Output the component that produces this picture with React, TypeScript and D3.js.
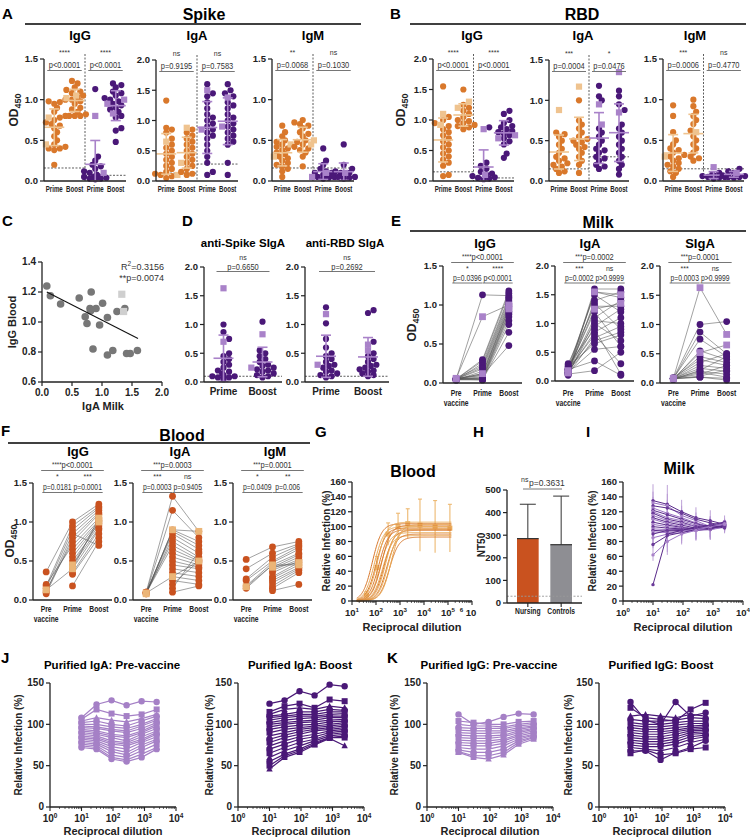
import React from 'react';
import * as d3 from 'd3';

const SANS = '"Liberation Sans", Arial, Helvetica, sans-serif';
const INK = '#222';
const ORANGE = '#D9782B';
const ORANGE_LT = '#EFC38F';
const RUST = '#C9521F';
const RUST_LT = '#EBB577';
const PURPLE = '#4A1878';
const PURPLE_LT = '#A982C9';

// ---------- A: Spike ELISA (blood prime, blood boost, milk prime, milk boost)
const primeBoost = ['Prime', 'Boost', 'Prime', 'Boost'];
const spikeIgG = [
  [1.0, 0.98, 0.97, 0.95, 0.9, 0.85, 0.8, 0.78, 0.75, 0.72, 0.7, 0.68, 0.65, 0.6, 0.55, 0.5, 0.45, 0.42, 0.4, 0.4, 0.38, 0.2],
  [1.23, 1.2, 1.15, 1.12, 1.1, 1.08, 1.05, 1.03, 1.0, 0.98, 0.95, 0.9, 0.88, 0.85, 0.82, 0.8, 0.8, 0.8],
  [1.13, 0.3, 0.25, 0.2, 0.18, 0.15, 0.12, 0.1, 0.08, 0.06, 0.05, 0.05, 0.04, 0.03, 0.03, 0.02],
  [1.2, 1.18, 1.15, 1.1, 1.08, 1.05, 1.02, 1.0, 0.98, 0.95, 0.93, 0.9, 0.88, 0.85, 0.8, 0.78, 0.65, 0.62, 0.48],
];
const spikeIgGSq = [[0.78, 0.45], [1.05, 1.02], [0.8, 0.1], [1.0, 0.95, 0.83]];
const spikeIgGCut = [0.16, 0.07];
const spikeIgGP = [['****', 'p<0.0001'], ['****', 'p<0.0001']];

const spikeIgA = [
  [1.33, 0.88, 0.85, 0.8, 0.7, 0.6, 0.55, 0.5, 0.45, 0.4, 0.35, 0.3, 0.25, 0.2, 0.15, 0.12, 0.1, 0.08, 0.05],
  [0.85, 0.8, 0.75, 0.7, 0.65, 0.6, 0.55, 0.5, 0.45, 0.4, 0.35, 0.3, 0.25, 0.2, 0.15, 0.12, 0.1],
  [1.6, 1.45, 1.4, 1.3, 1.2, 1.1, 1.05, 1.0, 0.95, 0.9, 0.85, 0.8, 0.75, 0.7, 0.6, 0.5, 0.4, 0.3, 0.15, 0.1],
  [1.6, 1.5, 1.45, 1.4, 1.3, 1.25, 1.2, 1.1, 1.05, 1.0, 0.95, 0.9, 0.85, 0.8, 0.75, 0.7, 0.65, 0.6, 0.3, 0.1],
];
const spikeIgASq = [[0.65, 0.1], [0.88, 0.3], [1.5, 0.85], [1.38, 0.9]];
const spikeIgACut = [0.13, 0.28];
const spikeIgAP = [['ns', 'p=0.9195'], ['ns', 'p=0.7583']];

const spikeIgM = [
  [0.68, 0.6, 0.55, 0.5, 0.48, 0.45, 0.42, 0.4, 0.38, 0.35, 0.33, 0.3, 0.28, 0.25, 0.22, 0.2, 0.18, 0.15, 0.12, 0.05],
  [0.75, 0.72, 0.7, 0.68, 0.65, 0.6, 0.58, 0.55, 0.5, 0.48, 0.45, 0.42, 0.4, 0.38, 0.35, 0.3, 0.18],
  [0.4, 0.25, 0.2, 0.15, 0.12, 0.1, 0.1, 0.08, 0.07, 0.06, 0.05, 0.05, 0.04, 0.03],
  [0.45, 0.2, 0.15, 0.12, 0.1, 0.1, 0.08, 0.07, 0.06, 0.05, 0.05, 0.04, 0.03],
];
const spikeIgMSq = [[0.45, 0.3], [0.45, 0.5], [0.1, 0.05], [0.1]];
const spikeIgMCut = [0.16, 0.16];
const spikeIgMP = [['**', 'p=0.0068'], ['ns', 'p=0.1030']];

// ---------- B: RBD ELISA
const rbdIgG = [
  [1.55, 1.05, 1.0, 0.95, 0.9, 0.85, 0.8, 0.75, 0.7, 0.65, 0.6, 0.55, 0.5, 0.45, 0.4, 0.35, 0.3, 0.25, 0.1, 0.08],
  [1.5, 1.25, 1.2, 1.15, 1.1, 1.05, 1.0, 0.98, 0.95, 0.92, 0.9, 0.88, 0.85],
  [0.88, 0.3, 0.25, 0.2, 0.15, 0.12, 0.1, 0.08, 0.06, 0.05, 0.04, 0.03],
  [1.15, 1.1, 1.0, 0.95, 0.9, 0.88, 0.85, 0.82, 0.8, 0.78, 0.75, 0.7, 0.65, 0.6, 0.45, 0.38],
];
const rbdIgGSq = [[1.1, 0.92], [1.3, 1.2], [0.85, 0.1], [0.75, 0.7]];
const rbdIgGCut = [0.15, 0.05];
const rbdIgGP = [['****', 'p<0.0001'], ['****', 'p<0.0001']];

const rbdIgA = [
  [0.6, 0.58, 0.55, 0.5, 0.45, 0.4, 0.35, 0.3, 0.28, 0.25, 0.22, 0.2, 0.18, 0.15, 0.12, 0.1],
  [1.0, 0.75, 0.7, 0.65, 0.6, 0.55, 0.52, 0.5, 0.48, 0.45, 0.42, 0.4, 0.35, 0.3, 0.25, 0.2, 0.1],
  [1.18, 1.05, 1.0, 0.65, 0.6, 0.55, 0.5, 0.45, 0.4, 0.38, 0.35, 0.3, 0.28, 0.25, 0.2, 0.18, 0.15],
  [1.12, 1.05, 0.95, 0.88, 0.7, 0.65, 0.6, 0.55, 0.5, 0.45, 0.4, 0.35, 0.3, 0.25, 0.2, 0.15, 0.08],
];
const rbdIgASq = [[0.88], [1.17], [0.95, 0.7], [1.35, 0.85]];
const rbdIgACut = [0.15, 0.3];
const rbdIgAP = [['***', 'p=0.0004'], ['*', 'p=0.0476']];

const rbdIgM = [
  [0.93, 0.8, 0.6, 0.5, 0.45, 0.4, 0.38, 0.35, 0.32, 0.3, 0.28, 0.25, 0.22, 0.2, 0.18, 0.15, 0.12, 0.1, 0.05],
  [1.0, 0.92, 0.85, 0.8, 0.75, 0.7, 0.62, 0.55, 0.5, 0.45, 0.4, 0.35, 0.3, 0.28, 0.25],
  [0.1, 0.08, 0.07, 0.06, 0.05, 0.05, 0.04, 0.03],
  [0.15, 0.12, 0.1, 0.08, 0.07, 0.06, 0.05, 0.05, 0.04],
];
const rbdIgMSq = [[0.3], [0.6], [0.17], [0.1]];
const rbdIgMCut = [0.15, 0.15];
const rbdIgMP = [['***', 'p=0.0006'], ['ns', 'p=0.4770']];

// ---------- C: milk IgA vs blood IgG
const corrMilkIgA = [0.08, 0.14, 0.31, 0.62, 0.82, 0.72, 0.75, 0.8, 0.81, 0.9, 1.01, 0.96, 1.09, 1.25, 1.38, 0.85, 1.09, 1.18, 1.41, 1.47, 1.59];
const corrBloodIgG = [1.24, 1.175, 1.12, 1.16, 1.2, 1.035, 0.99, 1.09, 1.075, 1.09, 1.125, 0.98, 1.03, 1.07, 1.09, 0.82, 0.78, 0.81, 0.79, 0.79, 0.81];
const corrMilkIgASq = [1.33, 1.36];
const corrBloodIgGSq = [1.185, 1.07];
const corrFitX = [0.08, 1.6];
const corrFitY = [1.2, 0.89];

// ---------- D: SIgA prime / boost
const spikeSIgA = [
  [1.0, 0.87, 0.75, 0.5, 0.45, 0.4, 0.35, 0.3, 0.25, 0.2, 0.18, 0.15, 0.12, 0.1, 0.1, 0.08, 0.08, 0.05],
  [1.05, 0.55, 0.5, 0.45, 0.4, 0.35, 0.3, 0.28, 0.25, 0.22, 0.2, 0.18, 0.15, 0.12, 0.1, 0.08],
];
const spikeSIgASq = [[1.63, 0.7], [0.83, 0.25]];
const rbdSIgA = [
  [1.3, 1.02, 0.75, 0.6, 0.5, 0.45, 0.4, 0.35, 0.3, 0.28, 0.25, 0.2, 0.18, 0.15, 0.12, 0.1, 0.08],
  [1.25, 1.2, 0.7, 0.5, 0.45, 0.4, 0.35, 0.3, 0.28, 0.25, 0.22, 0.2, 0.18, 0.15, 0.12, 0.1],
];
const rbdSIgASq = [[1.18, 0.3], [0.55, 0.65]];
const sigaCut = [0.1];

// ---------- E: milk, paired [pre, prime, boost]
const stages = ['Pre vaccine', 'Prime', 'Boost'];
const milkIgG = [
  [0.05, 1.13, 1.12], [0.05, 0.3, 1.18], [0.05, 0.28, 1.15], [0.04, 0.25, 1.1], [0.06, 0.22, 1.08], [0.05, 0.2, 1.05],
  [0.05, 0.18, 1.02], [0.04, 0.15, 1.0], [0.05, 0.12, 0.98], [0.06, 0.1, 0.95], [0.05, 0.08, 0.92], [0.04, 0.07, 0.9],
  [0.05, 0.06, 0.88], [0.05, 0.05, 0.85], [0.06, 0.05, 0.8], [0.05, 0.04, 0.75], [0.04, 0.04, 0.65], [0.05, 0.1, 0.48],
];
const milkIgGSq = [[0.06, 0.85, 1.0], [0.05, 0.12, 0.95]];
const milkIgA = [
  [0.15, 1.6, 1.6], [0.2, 1.55, 1.45], [0.25, 1.5, 1.2], [0.12, 1.4, 1.55], [0.18, 1.35, 0.9], [0.3, 1.3, 1.3],
  [0.2, 1.2, 0.6], [0.15, 1.1, 1.4], [0.1, 1.05, 1.0], [0.22, 1.0, 0.7], [0.14, 0.95, 1.25], [0.28, 0.9, 0.12],
  [0.16, 0.85, 1.1], [0.2, 0.8, 0.3], [0.12, 0.75, 0.95], [0.18, 0.7, 0.85], [0.25, 0.65, 0.8], [0.15, 0.55, 0.6],
  [0.2, 0.35, 0.1], [0.12, 0.18, 0.5],
];
const milkIgASq = [[0.14, 1.55, 1.5], [0.18, 1.25, 1.35]];
const milkSIgA = [
  [0.08, 1.0, 1.05], [0.07, 0.87, 0.5], [0.08, 0.75, 0.45], [0.06, 0.55, 0.4], [0.07, 0.45, 0.35], [0.09, 0.4, 0.3],
  [0.08, 0.35, 0.5], [0.07, 0.3, 0.25], [0.08, 0.25, 0.2], [0.06, 0.22, 0.45], [0.08, 0.2, 0.15], [0.07, 0.18, 0.1],
  [0.08, 0.15, 0.3], [0.07, 0.12, 0.22], [0.08, 0.1, 0.08], [0.07, 0.1, 0.05],
];
const milkSIgASq = [[0.08, 1.63, 0.83], [0.07, 0.52, 0.65]];
const milkIgGP = [['****', 'p<0.0001'], ['*', 'p=0.0396'], ['****', 'p<0.0001']];
const milkIgAP = [['***', 'p=0.0002'], ['***', 'p=0.0002'], ['ns', 'p>0.9999']];
const milkSIgAP = [['***', 'p=0.0001'], ['***', 'p=0.0003'], ['ns', 'p>0.9999']];

// ---------- F: blood, paired [pre, prime, boost]
const serumIgG = [
  [0.36, 1.0, 1.23], [0.18, 0.95, 1.2], [0.15, 0.9, 1.18], [0.1, 0.85, 1.15], [0.08, 0.8, 1.12], [0.12, 0.75, 1.1],
  [0.2, 0.7, 1.05], [null, 0.65, 1.02], [null, 0.6, 1.0], [null, 0.55, 0.98], [null, 0.5, 0.95], [null, 0.45, 0.92],
  [null, 0.4, 0.9], [null, 0.35, 0.85], [null, 0.33, 0.8], [null, 0.18, 0.75], [null, 0.85, 0.7],
];
const serumIgGSq = [[0.13, 0.4, 1.05], [null, 0.45, 1.0]];
const serumIgA = [
  [0.1, 1.33, 0.88], [0.09, 1.15, 0.8], [0.08, 0.9, 0.75], [0.1, 0.88, 0.7], [0.09, 0.85, 0.65], [0.08, 0.8, 0.6],
  [0.1, 0.75, 0.55], [0.09, 0.7, 0.52], [null, 0.65, 0.5], [null, 0.6, 0.48], [null, 0.55, 0.45], [null, 0.5, 0.42],
  [null, 0.45, 0.4], [null, 0.4, 0.35], [null, 0.35, 0.3], [null, 0.3, 0.25], [null, 0.25, 0.2], [null, 0.2, 0.5],
  [null, 0.15, 0.62], [null, 0.1, 0.18],
];
const serumIgASq = [[0.08, 0.9, 0.88], [0.09, 0.3, 0.5]];
const serumIgM = [
  [0.52, 0.68, 0.75], [0.4, 0.6, 0.72], [0.27, 0.55, 0.7], [0.25, 0.5, 0.68], [0.18, 0.48, 0.65], [0.15, 0.45, 0.6],
  [null, 0.42, 0.58], [null, 0.4, 0.55], [null, 0.38, 0.52], [null, 0.35, 0.5], [null, 0.3, 0.48], [null, 0.28, 0.45],
  [null, 0.25, 0.42], [null, 0.22, 0.4], [null, 0.18, 0.38], [null, 0.15, 0.35], [null, 0.12, 0.2],
];
const serumIgMSq = [[0.17, 0.45, 0.45], [null, 0.42, 0.48]];
const serumIgGP = [['****', 'p<0.0001'], ['*', 'p=0.0181'], ['***', 'p=0.0001']];
const serumIgAP = [['***', 'p=0.0003'], ['***', 'p=0.0003'], ['ns', 'p=0.9405']];
const serumIgMP = [['***', 'p=0.0001'], ['*', 'p=0.0409'], ['**', 'p=0.006']];

// ---------- G: blood neutralisation fits (IC50, top) and column summaries
const bloodIC50 = [70, 85, 100, 115, 130, 150, 170, 190, 220, 250, 280, 320, 360, 420];
const bloodTop = [104, 100, 98, 106, 96, 92, 102, 88, 95, 100, 90, 97, 86, 103];
const bloodHill = 2.2;
const bloodColDil = [40, 110, 320, 830, 2100, 6800, 29000, 120000];
const bloodColMean = [8, 45, 90, 100, 104, 102, 100, 98];
const bloodColSd = [5, 15, 15, 18, 20, 35, 35, 32];

// ---------- H: NT50
const nt50Groups = ['Nursing', 'Controls'];
const nt50Mean = [285, 258];
const nt50Sd = [152, 215];
const nt50Cut = 30;

// ---------- I, J, K: relative infection at dilutions
const dilutions = [10, 30, 90, 270, 810, 2430];
const milkNeut = [
  [135, 130, 120, 112, 108, 103], [132, 128, 115, 108, 100, 104], [128, 125, 118, 110, 105, 101],
  [125, 118, 112, 105, 100, 102], [122, 116, 110, 104, 99, 100], [120, 112, 108, 102, 100, 103],
  [118, 110, 106, 100, 98, 100], [115, 108, 104, 100, 98, 104], [112, 106, 102, 98, 97, 101],
  [110, 104, 100, 97, 96, 99], [106, 102, 99, 96, 96, 103], [103, 100, 98, 95, 96, 100],
  [100, 98, 97, 95, 97, 102], [97, 96, 96, 95, 98, 104], [95, 94, 95, 96, 100, 105],
  [93, 92, 94, 97, 100, 107], [90, 95, 96, 98, 102, 106], [85, 90, 92, 95, 100, 104],
  [76, 88, 92, 96, 98, 101], [62, 80, 90, 95, 100, 103], [22, 90, 95, 100, 102, 98],
];
const milkNeutSd = [22, 26, 16, 14, 14, 8];

const igaPre = [
  [108, 124, 129, 123, 128, 127], [106, 118, 113, 110, 112, 118], [104, 108, 105, 103, 107, 112],
  [102, 104, 100, 98, 104, 110], [100, 100, 97, 95, 100, 107], [98, 97, 94, 92, 98, 105],
  [96, 95, 92, 90, 95, 102], [94, 92, 88, 86, 92, 100], [92, 90, 86, 84, 90, 98],
  [90, 88, 84, 80, 88, 95], [88, 86, 80, 78, 85, 92], [86, 84, 78, 76, 82, 90],
  [84, 82, 76, 74, 80, 88], [82, 80, 73, 70, 78, 85], [80, 78, 70, 66, 75, 82],
  [78, 76, 67, 63, 72, 80], [76, 74, 63, 60, 68, 76], [74, 72, 60, 57, 64, 72], [72, 70, 58, 55, 60, 70],
];
const igaBoost = [
  [125, 129, 140, 135, 148, 146], [115, 122, 125, 120, 130, 128], [112, 118, 120, 118, 122, 120],
  [110, 112, 115, 115, 118, 117], [108, 110, 112, 112, 115, 115], [105, 108, 110, 110, 112, 113],
  [102, 105, 107, 108, 110, 110], [100, 102, 104, 105, 108, 108], [97, 100, 102, 103, 105, 106],
  [94, 97, 99, 100, 103, 104], [90, 94, 96, 98, 100, 102], [86, 90, 94, 96, 98, 100],
  [82, 87, 91, 94, 96, 98], [78, 84, 88, 92, 94, 96], [74, 80, 85, 88, 92, 94],
  [70, 76, 82, 85, 90, 92], [65, 72, 78, 82, 88, 90], [60, 68, 74, 80, 86, 88],
  [55, 64, 70, 78, 84, 86], [50, 62, 68, 76, 84, 84], [46, 60, 66, 75, 83, 74],
];
const iggPre = [
  [112, 100, 103, 109, 113, 112], [104, 102, 100, 100, 103, 104], [100, 98, 98, 97, 100, 102],
  [96, 95, 95, 95, 98, 100], [93, 92, 92, 92, 96, 98], [90, 89, 89, 90, 94, 97],
  [87, 86, 86, 87, 92, 95], [84, 83, 83, 85, 90, 94], [81, 80, 80, 82, 88, 92],
  [78, 77, 77, 80, 86, 90], [75, 74, 74, 77, 84, 88], [72, 70, 70, 74, 82, 87],
  [69, 66, 66, 70, 80, 85], [67, 62, 62, 66, 78, 84], [66, 60, 58, 63, 76, 82],
];
const iggBoost = [
  [127, 105, 100, 127, 110, 114], [120, 108, 106, 104, 118, 126], [110, 112, 110, 108, 112, 110],
  [106, 104, 104, 105, 108, 107], [102, 100, 100, 102, 104, 104], [99, 97, 97, 99, 101, 101],
  [96, 94, 94, 96, 98, 99], [93, 91, 91, 93, 96, 97], [90, 88, 88, 91, 94, 95],
  [87, 85, 85, 88, 92, 93], [84, 82, 82, 85, 90, 91], [81, 79, 79, 82, 88, 89],
  [78, 76, 76, 79, 85, 87], [75, 73, 73, 76, 82, 85], [72, 70, 68, 72, 78, 82],
  [68, 68, 57, 66, 72, 80], [65, 69, 63, 65, 70, 72],
];

// ---------------- helpers
function swarm(ys: number[], r: number) {
  const order = ys.map((_, i) => i).sort((a, b) => ys[b] - ys[a]);
  const placed: [number, number][] = [];
  const out = ys.map(() => 0);
  const d = r * 1.45;
  const stepX = r * 0.9;
  for (const i of order) {
    let off = ((i % 5) - 2) * stepX * 0.5;
    for (let k = 0; k < 9; k++) {
      const m = Math.ceil(k / 2) * stepX;
      const cand = k % 2 ? m : -m;
      if (placed.every(([px, py]) => Math.hypot(px - cand, py - ys[i]) >= d)) { off = cand; break; }
    }
    placed.push([off, ys[i]]);
    out[i] = off;
  }
  return out;
}

// horizontally condensed text (stand-in for a narrow face)
function NText({ x, y, size, squeeze = 0.8, bold = true, fill = INK, children }: { x: number; y: number; size: number; squeeze?: number; bold?: boolean; fill?: string; children: any }) {
  return (
    <text transform={`translate(${x},${y}) scale(${squeeze},1)`} textAnchor="middle" fontSize={size} fontWeight={bold ? 'bold' : 'normal'} fill={fill}>
      {children}
    </text>
  );
}

function YAxis({ y, x, ticks, fmt, size = 9.5 }: { y: any; x: number; ticks: number[]; fmt: (v: number) => string; size?: number }) {
  const [a, b] = y.range();
  return (
    <g>
      <line x1={x} x2={x} y1={a} y2={b} stroke={INK} strokeWidth={1.3} />
      {ticks.map((t) => (
        <g key={t}>
          <line x1={x - 4} x2={x} y1={y(t)} y2={y(t)} stroke={INK} strokeWidth={1.2} />
          <text x={x - 6} y={y(t) + 3.4} textAnchor="end" fontSize={size} fontWeight="bold" fill={INK}>{fmt(t)}</text>
        </g>
      ))}
    </g>
  );
}

function LogXAxis({ x, y, from, to, size = 9.5, labelDy = 15, weird = false }: { x: any; y: number; from: number; to: number; size?: number; labelDy?: number; weird?: boolean }) {
  const [r0, r1] = x.range();
  const minor: number[] = [];
  for (let e = from; e < to; e++) for (let k = 2; k <= 9; k++) minor.push(k * Math.pow(10, e));
  return (
    <g>
      <line x1={r0} x2={r1} y1={y} y2={y} stroke={INK} strokeWidth={1.3} />
      {minor.map((m) => <line key={m} x1={x(m)} x2={x(m)} y1={y} y2={y + 2} stroke={INK} strokeWidth={0.7} />)}
      {d3.range(from, to + 1).map((e) => (
        <g key={e}>
          <line x1={x(Math.pow(10, e))} x2={x(Math.pow(10, e))} y1={y} y2={y + 4} stroke={INK} strokeWidth={1.1} />
          {weird && e === to ? (
            <text x={x(Math.pow(10, e)) - 4} y={y + labelDy} textAnchor="middle" fontSize={size} fontWeight="bold" fill={INK}>
              <tspan fontSize={size * 0.65} dy={-size * 0.4}>{e}</tspan>
              <tspan dy={size * 0.4}>{' 10'}</tspan>
            </text>
          ) : (
            <text x={x(Math.pow(10, e))} y={y + labelDy} textAnchor="middle" fontSize={size} fontWeight="bold" fill={INK}>
              10<tspan fontSize={size * 0.65} dy={-size * 0.45}>{e}</tspan>
            </text>
          )}
        </g>
      ))}
    </g>
  );
}

function RotLabel({ x, y, size = 10, children }: { x: number; y: number; size?: number; children: any }) {
  return (
    <text transform={`translate(${x},${y}) rotate(-90)`} textAnchor="middle" fontSize={size} fontWeight="bold" fill={INK}>
      {children}
    </text>
  );
}

function OdLabel({ x, y }: { x: number; y: number }) {
  return (
    <RotLabel x={x} y={y} size={12}>
      OD<tspan fontSize={9} dy={3}>450</tspan>
    </RotLabel>
  );
}

function Letter({ x, y, t }: { x: number; y: number; t: string }) {
  return <text x={x} y={y} fontSize={15} fontWeight="bold" fill="#000">{t}</text>;
}

function Header({ x1, x2, y, title, tx, ty }: { x1: number; x2: number; y: number; title: string; tx: number; ty: number }) {
  return (
    <g>
      <text x={tx} y={ty} textAnchor="middle" fontSize={16} fontWeight="bold" fill="#000">{title}</text>
      <line x1={x1} x2={x2} y1={y} y2={y} stroke="#000" strokeWidth={1.3} />
    </g>
  );
}

function Title({ x, y, t, size = 13 }: { x: number; y: number; t: string; size?: number }) {
  return <text x={x} y={y} textAnchor="middle" fontSize={size} fontWeight="bold" fill="#000">{t}</text>;
}

// ---------------- dot (scatter) panel with mean ± SD
type DotProps = {
  x0: number; x1: number; yTop: number; yBot: number; yMax: number; step: number;
  groups: number[][]; squares: number[][]; cut: number[]; pv: string[][]; cats: string[];
  dark: string[]; light: string[]; br: number[]; catY: number; catSize?: number; squeeze?: number; r?: number;
};
function DotPanel(p: DotProps) {
  const r = p.r ?? 3.1;
  const n = p.groups.length;
  const y = d3.scaleLinear().domain([0, p.yMax]).range([p.yBot, p.yTop]);
  const xb = d3.scaleBand<number>().domain(d3.range(n)).range([p.x0, p.x1]);
  const cx = (i: number) => (xb(i) ?? 0) + xb.bandwidth() / 2;
  const mid = n === 4 ? (cx(1) + cx(2)) / 2 : 0;
  const ticks = d3.range(0, p.yMax + 1e-9, p.step);
  const pairs = n === 4 ? [[0, 1], [2, 3]] : [[0, 1]];
  return (
    <g>
      {n === 4 && <line x1={mid} x2={mid} y1={p.yTop - 5} y2={p.yBot} stroke="#333" strokeWidth={0.8} strokeDasharray="2,1.5" />}
      {p.cut.map((c, k) => {
        const xa = n === 4 && k === 1 ? mid : p.x0;
        const xe = n === 4 && k === 0 ? mid : p.x1;
        return <line key={k} x1={xa} x2={xe} y1={y(c)} y2={y(c)} stroke="#333" strokeWidth={0.8} strokeDasharray="2,1.5" />;
      })}
      {p.groups.map((vals, gi) => {
        const all = [...vals.map((v) => ({ v, sq: false })), ...(p.squares[gi] || []).map((v) => ({ v, sq: true }))];
        const offs = swarm(all.map((d) => y(d.v)), r);
        const m = d3.mean(all, (d) => d.v) ?? 0;
        const sd = d3.deviation(all, (d) => d.v) ?? 0;
        const c = cx(gi);
        const lo = y(Math.max(0, m - sd));
        const hi = y(m + sd);
        return (
          <g key={gi}>
            {all.map((d, i) =>
              d.sq ? (
                <rect key={i} x={c + offs[i] - r} y={y(d.v) - r} width={2 * r} height={2 * r} fill={p.light[gi]} />
              ) : (
                <circle key={i} cx={c + offs[i]} cy={y(d.v)} r={r} fill={p.dark[gi]} />
              )
            )}
            <g stroke={p.light[gi]} strokeWidth={1.6}>
              <line x1={c - 10} x2={c + 10} y1={y(m)} y2={y(m)} />
              <line x1={c} x2={c} y1={lo} y2={hi} />
              <line x1={c - 5} x2={c + 5} y1={hi} y2={hi} />
              <line x1={c - 5} x2={c + 5} y1={lo} y2={lo} />
            </g>
          </g>
        );
      })}
      <YAxis y={y} x={p.x0} ticks={ticks} fmt={d3.format('.1f')} />
      <line x1={p.x0} x2={p.x1} y1={p.yBot} y2={p.yBot} stroke={INK} strokeWidth={1.3} />
      {p.cats.map((c, i) => (
        <NText key={i} x={cx(i)} y={p.catY} size={p.catSize ?? 8.5} squeeze={p.squeeze ?? 0.72}>{c}</NText>
      ))}
      {pairs.map(([a, b], k) => {
        const m = (cx(a) + cx(b)) / 2;
        return (
          <g key={k}>
            <text x={m} y={p.yTop + p.br[0]} textAnchor="middle" fontSize={7} fill="#333">{p.pv[k][0]}</text>
            <NText x={m} y={p.yTop + p.br[1]} size={8.5} squeeze={0.88} bold={false} fill="#333">{p.pv[k][1]}</NText>
            <line x1={cx(a) - 7} x2={cx(b) + 7} y1={p.yTop + p.br[2]} y2={p.yTop + p.br[2]} stroke="#666" strokeWidth={0.9} />
          </g>
        );
      })}
    </g>
  );
}

// ---------------- paired (before/after) panel
type PairProps = {
  x0: number; x1: number; yTop: number; yBot: number; yMax: number;
  rows: (number | null)[][]; sq: (number | null)[][]; dark: string; light: string;
  pv: string[][]; by: number[]; catY: number; r?: number;
};
function PairPanel(p: PairProps) {
  const r = p.r ?? 3.4;
  const y = d3.scaleLinear().domain([0, p.yMax]).range([p.yBot, p.yTop]);
  const xb = d3.scaleBand<number>().domain([0, 1, 2]).range([p.x0, p.x1]);
  const cx = (i: number) => (xb(i) ?? 0) + xb.bandwidth() / 2;
  const ticks = d3.range(0, p.yMax + 1e-9, 0.5);
  const seg = (row: (number | null)[]) =>
    row.slice(0, 2).map((v, i) => (v != null && row[i + 1] != null ? [cx(i), y(v), cx(i + 1), y(row[i + 1] as number)] : null)).filter(Boolean) as number[][];
  const all = [...p.rows.map((row) => ({ row, sq: false })), ...p.sq.map((row) => ({ row, sq: true }))];
  return (
    <g>
      {all.map(({ row }, k) => seg(row).map((s, j) => <line key={`${k}-${j}`} x1={s[0]} y1={s[1]} x2={s[2]} y2={s[3]} stroke="#555" strokeWidth={0.55} />))}
      {all.map(({ row, sq }, k) =>
        row.map((v, i) =>
          v == null ? null : sq ? (
            <rect key={`${k}-${i}`} x={cx(i) - r} y={y(v) - r} width={2 * r} height={2 * r} fill={p.light} />
          ) : (
            <circle key={`${k}-${i}`} cx={cx(i)} cy={y(v)} r={r} fill={p.dark} />
          )
        )
      )}
      <YAxis y={y} x={p.x0} ticks={ticks} fmt={d3.format('.1f')} />
      <line x1={p.x0} x2={p.x1} y1={p.yBot} y2={p.yBot} stroke={INK} strokeWidth={1.3} />
      {stages.map((s, i) =>
        i === 0 ? (
          <g key={i}>
            <NText x={cx(i)} y={p.catY} size={9} squeeze={0.75}>Pre</NText>
            <NText x={cx(i)} y={p.catY + 10} size={9} squeeze={0.75}>vaccine</NText>
          </g>
        ) : (
          <NText key={i} x={cx(i)} y={p.catY} size={9} squeeze={0.75}>{s}</NText>
        )
      )}
      <g fill="#333">
        <NText x={(cx(0) + cx(2)) / 2} y={p.by[0]} size={8.5} squeeze={0.88} bold={false} fill="#333">
          <tspan fontSize={7} dy={-1}>{p.pv[0][0]}</tspan>
          <tspan dy={1}>{p.pv[0][1]}</tspan>
        </NText>
        <line x1={cx(0) - 5} x2={cx(2) + 5} y1={p.by[1]} y2={p.by[1]} stroke="#666" strokeWidth={0.9} />
        {[0, 1].map((j) => {
          const m = (cx(j) + cx(j + 1)) / 2 + (j === 0 ? -2 : 2);
          return (
            <g key={j}>
              <text x={m} y={p.by[2]} textAnchor="middle" fontSize={7}>{p.pv[j + 1][0]}</text>
              <NText x={m} y={p.by[3]} size={8.5} squeeze={0.8} bold={false} fill="#333">{p.pv[j + 1][1]}</NText>
              <line x1={m - 15} x2={m + 15} y1={p.by[4]} y2={p.by[4]} stroke="#666" strokeWidth={0.9} />
            </g>
          );
        })}
      </g>
    </g>
  );
}

// ---------------- C scatter
function Correlation() {
  const x = d3.scaleLinear().domain([0, 2]).range([42, 162]);
  const y = d3.scaleLinear().domain([0.6, 1.4]).range([382, 262]);
  return (
    <g>
      {corrMilkIgA.map((v, i) => <circle key={i} cx={x(v)} cy={y(corrBloodIgG[i])} r={3.8} fill="#777" />)}
      {corrMilkIgASq.map((v, i) => <rect key={i} x={x(v) - 3.6} y={y(corrBloodIgGSq[i]) - 3.6} width={7.2} height={7.2} fill="#CFCFCF" />)}
      <line x1={x(corrFitX[0])} x2={x(corrFitX[1])} y1={y(corrFitY[0])} y2={y(corrFitY[1])} stroke="#111" strokeWidth={1.1} />
      <YAxis y={y} x={42} ticks={d3.range(0.6, 1.41, 0.2)} fmt={d3.format('.1f')} size={10} />
      <line x1={42} x2={162} y1={382} y2={382} stroke={INK} strokeWidth={1.3} />
      {d3.range(0, 2.01, 0.5).map((t) => (
        <g key={t}>
          <line x1={x(t)} x2={x(t)} y1={382} y2={386} stroke={INK} strokeWidth={1.2} />
          <text x={x(t)} y={396} textAnchor="middle" fontSize={10} fontWeight="bold" fill={INK}>{d3.format('.1f')(t)}</text>
        </g>
      ))}
      <text x={103} y={410} textAnchor="middle" fontSize={11} fontWeight="bold" fill={INK}>IgA Milk</text>
      <RotLabel x={16} y={322} size={11}>IgG Blood</RotLabel>
      <text x={164} y={270} textAnchor="end" fontSize={9} fill="#333">R<tspan fontSize={6.5} dy={-4}>2</tspan><tspan dy={4}>=0.3156</tspan></text>
      <text x={164} y={281} textAnchor="end" fontSize={9} fill="#333">**p=0.0074</text>
    </g>
  );
}

// ---------------- G sigmoid fits
function BloodCurves() {
  const x = d3.scaleLog().domain([10, 1e6]).range([352, 472]);
  const y = d3.scaleLinear().domain([0, 160]).range([601, 482]);
  const xs = d3.range(1.2, 5.16, 0.02).map((l) => Math.pow(10, l));
  return (
    <g>
      {bloodColDil.map((d, i) => (
        <g key={i} stroke="#EDB870" strokeWidth={1.1}>
          <line x1={x(d)} x2={x(d)} y1={y(Math.max(0, bloodColMean[i] - bloodColSd[i]))} y2={y(bloodColMean[i] + bloodColSd[i])} />
          <line x1={x(d) - 2} x2={x(d) + 2} y1={y(bloodColMean[i] + bloodColSd[i])} y2={y(bloodColMean[i] + bloodColSd[i])} />
          <rect x={x(d) - 2.5} y={y(bloodColMean[i]) - 2.5} width={5} height={5} fill="#EDB870" stroke="none" />
        </g>
      ))}
      {bloodIC50.map((ic, i) => {
        const path = d3.line<number>().x((d) => x(d)).y((d) => y(bloodTop[i] / (1 + Math.pow(ic / d, bloodHill))))(xs);
        return <path key={i} d={path ?? ''} fill="none" stroke={i % 2 ? '#E9A955' : ORANGE} strokeWidth={1} />;
      })}
      <YAxis y={y} x={352} ticks={d3.range(0, 161, 20)} fmt={d3.format('d')} size={9.5} />
      <LogXAxis x={x} y={601} from={1} to={6} weird labelDy={15} />
      <Title x={413} y={477} t="Blood" size={16} />
      <RotLabel x={330} y={541} size={10}>Relative Infection (%)</RotLabel>
      <text x={412} y={631} textAnchor="middle" fontSize={11} fontWeight="bold" fill={INK}>Reciprocal dilution</text>
    </g>
  );
}

// ---------------- H bars
function Nt50Bars() {
  const x = d3.scaleBand<string>().domain(nt50Groups).range([507, 582]).paddingInner(0.35).paddingOuter(0.3);
  const y = d3.scaleLinear().domain([0, 500]).range([603, 490]);
  const fills = [RUST, '#8E8E93'];
  return (
    <g>
      {nt50Groups.map((g, i) => {
        const bx = x(g) ?? 0;
        const c = bx + x.bandwidth() / 2;
        return (
          <g key={g}>
            <rect x={bx} y={y(nt50Mean[i])} width={x.bandwidth()} height={603 - y(nt50Mean[i])} fill={fills[i]} />
            <line x1={bx} x2={bx + x.bandwidth()} y1={y(nt50Mean[i])} y2={y(nt50Mean[i])} stroke="#333" strokeWidth={1.2} />
            <line x1={c} x2={c} y1={y(nt50Mean[i])} y2={y(nt50Mean[i] + nt50Sd[i])} stroke="#333" strokeWidth={1} />
            <line x1={c - 8} x2={c + 8} y1={y(nt50Mean[i] + nt50Sd[i])} y2={y(nt50Mean[i] + nt50Sd[i])} stroke="#333" strokeWidth={1} />
            <NText x={c} y={614} size={9} squeeze={0.75}>{g}</NText>
          </g>
        );
      })}
      <line x1={507} x2={582} y1={y(nt50Cut)} y2={y(nt50Cut)} stroke="#999" strokeWidth={0.9} strokeDasharray="2,1.5" />
      <YAxis y={y} x={507} ticks={d3.range(0, 501, 100)} fmt={d3.format('d')} size={9.5} />
      <line x1={507} x2={582} y1={603} y2={603} stroke={INK} strokeWidth={1.3} />
      {nt50Groups.map((g) => (
        <line key={g} x1={(x(g) ?? 0) + x.bandwidth() / 2} x2={(x(g) ?? 0) + x.bandwidth() / 2} y1={603} y2={607} stroke={INK} strokeWidth={1.1} />
      ))}
      <text x={521} y={482} fontSize={7} fill="#333">ns</text>
      <text x={529} y={486} fontSize={8.5} fill="#333">p=0.3631</text>
      <line x1={523} x2={562} y1={489} y2={489} stroke="#666" strokeWidth={0.9} />
      <RotLabel x={485} y={545} size={10}>NT50</RotLabel>
    </g>
  );
}

// ---------------- I milk neutralisation
function MilkNeut() {
  const x = d3.scaleLog().domain([1, 1e4]).range([623, 743]);
  const y = d3.scaleLinear().domain([0, 160]).range([601, 482]);
  const line = d3.line<number>().x((_, i) => x(dilutions[i])).y((d) => y(d));
  return (
    <g>
      {milkNeut.map((row, k) =>
        k % 3 === 0
          ? row.map((v, i) => (
              <line key={`${k}-${i}`} x1={x(dilutions[i])} x2={x(dilutions[i])} y1={y(v - milkNeutSd[i])} y2={y(v + milkNeutSd[i])} stroke="#B596D2" strokeWidth={0.9} />
            ))
          : null
      )}
      {milkNeut.map((row, k) => (
        <path key={k} d={line(row) ?? ''} fill="none" stroke={k % 2 ? '#9C74C4' : '#5A2A8A'} strokeWidth={1} />
      ))}
      {milkNeut.map((row, k) => row.map((v, i) => <circle key={`${k}-${i}`} cx={x(dilutions[i])} cy={y(v)} r={1.7} fill={k % 2 ? '#A982C9' : '#6B3A9A'} />))}
      <YAxis y={y} x={623} ticks={d3.range(0, 161, 20)} fmt={d3.format('d')} size={9.5} />
      <LogXAxis x={x} y={601} from={0} to={4} labelDy={15} />
      <Title x={679} y={474} t="Milk" size={16} />
      <RotLabel x={596} y={541} size={10}>Relative Infection (%)</RotLabel>
      <text x={683} y={631} textAnchor="middle" fontSize={11} fontWeight="bold" fill={INK}>Reciprocal dilution</text>
    </g>
  );
}

// ---------------- J/K purified antibody panels
function LinePanel({ x0, rows, color, title, labelX }: { x0: number; rows: number[][]; color: string; title: string; labelX: number }) {
  const x = d3.scaleLog().domain([1, 1e4]).range([x0, x0 + 126]);
  const y = d3.scaleLinear().domain([0, 150]).range([807, 683]);
  const line = d3.line<number>().x((_, i) => x(dilutions[i])).y((d) => y(d));
  const mark = (k: number, cx: number, cy: number, key: string) => {
    const s = k % 3;
    if (s === 0) return <circle key={key} cx={cx} cy={cy} r={3.2} fill={color} />;
    if (s === 1) return <rect key={key} x={cx - 3} y={cy - 3} width={6} height={6} fill={color} />;
    return <path key={key} d={`M${cx},${cy - 3.5}L${cx + 3.2},${cy + 2.5}L${cx - 3.2},${cy + 2.5}Z`} fill={color} />;
  };
  return (
    <g>
      {rows.map((row, k) => <path key={k} d={line(row) ?? ''} fill="none" stroke={color} strokeWidth={1.2} />)}
      {rows.map((row, k) => row.map((v, i) => mark(k, x(dilutions[i]), y(v), `${k}-${i}`)))}
      <YAxis y={y} x={x0} ticks={[0, 50, 100, 150]} fmt={d3.format('d')} size={10} />
      <LogXAxis x={x} y={807} from={0} to={4} labelDy={15} size={10} />
      <Title x={x0 + 62} y={669} t={title} size={11.5} />
      <RotLabel x={labelX} y={745} size={10}>Relative Infection (%)</RotLabel>
      <text x={x0 + 63} y={835} textAnchor="middle" fontSize={11} fontWeight="bold" fill={INK}>Reciprocal dilution</text>
    </g>
  );
}

const abBr = [-4, 9, 11.5];
const ob = [ORANGE, ORANGE, PURPLE, PURPLE];
const obLt = [ORANGE_LT, ORANGE_LT, PURPLE_LT, PURPLE_LT];

export default function App() {
  return (
    <svg width={750} height={837} viewBox="0 0 750 837" fontFamily={SANS} style={{ position: 'absolute', left: 0, top: 0, background: '#fff' }}>
      <rect width={750} height={837} fill="#fff" />

      {/* A */}
      <Letter x={2} y={19} t="A" />
      <Header x1={25} x2={361} y={24} title="Spike" tx={204} ty={20} />
      <Title x={80} y={40} t="IgG" />
      <Title x={197} y={40} t="IgA" />
      <Title x={313} y={40} t="IgM" />
      <OdLabel x={18} y={110} />
      <DotPanel x0={44} x1={126} yTop={59} yBot={181} yMax={1.5} step={0.5} groups={spikeIgG} squares={spikeIgGSq} cut={spikeIgGCut} pv={spikeIgGP} cats={primeBoost} dark={ob} light={obLt} br={abBr} catY={192} />
      <DotPanel x0={156} x1={238} yTop={60} yBot={181} yMax={2.0} step={0.5} groups={spikeIgA} squares={spikeIgASq} cut={spikeIgACut} pv={spikeIgAP} cats={primeBoost} dark={ob} light={obLt} br={abBr} catY={192} />
      <DotPanel x0={272} x1={354} yTop={59} yBot={181} yMax={1.5} step={0.5} groups={spikeIgM} squares={spikeIgMSq} cut={spikeIgMCut} pv={spikeIgMP} cats={primeBoost} dark={ob} light={obLt} br={abBr} catY={192} />

      {/* B */}
      <Letter x={390} y={19} t="B" />
      <Header x1={410} x2={746} y={24} title="RBD" tx={582} ty={20} />
      <Title x={472} y={40} t="IgG" />
      <Title x={583} y={40} t="IgA" />
      <Title x={695} y={40} t="IgM" />
      <OdLabel x={405} y={110} />
      <DotPanel x0={433} x1={514} yTop={59} yBot={181} yMax={2.0} step={0.5} groups={rbdIgG} squares={rbdIgGSq} cut={rbdIgGCut} pv={rbdIgGP} cats={primeBoost} dark={ob} light={obLt} br={abBr} catY={192} />
      <DotPanel x0={549} x1={629} yTop={60} yBot={181} yMax={1.5} step={0.5} groups={rbdIgA} squares={rbdIgASq} cut={rbdIgACut} pv={rbdIgAP} cats={primeBoost} dark={ob} light={obLt} br={abBr} catY={192} />
      <DotPanel x0={663} x1={744} yTop={59} yBot={181} yMax={1.5} step={0.5} groups={rbdIgM} squares={rbdIgMSq} cut={rbdIgMCut} pv={rbdIgMP} cats={primeBoost} dark={ob} light={obLt} br={abBr} catY={192} />

      {/* C */}
      <Letter x={2} y={226} t="C" />
      <Correlation />

      {/* D */}
      <Letter x={182} y={226} t="D" />
      <Title x={243} y={247} t="anti-Spike SIgA" size={11.5} />
      <Title x={345} y={247} t="anti-RBD SIgA" size={11.5} />
      <DotPanel x0={204} x1={282} yTop={267} yBot={382} yMax={2.0} step={0.5} groups={spikeSIgA} squares={spikeSIgASq} cut={sigaCut} pv={[['ns', 'p=0.6650']]} cats={['Prime', 'Boost']} dark={[PURPLE, PURPLE]} light={[PURPLE_LT, PURPLE_LT]} br={[-7, 3, 4.5]} catY={395} catSize={10.5} squeeze={0.95} />
      <DotPanel x0={305} x1={389} yTop={267} yBot={382} yMax={2.0} step={0.5} groups={rbdSIgA} squares={rbdSIgASq} cut={sigaCut} pv={[['ns', 'p=0.2692']]} cats={['Prime', 'Boost']} dark={[PURPLE, PURPLE]} light={[PURPLE_LT, PURPLE_LT]} br={[-7, 3, 4.5]} catY={395} catSize={10.5} squeeze={0.95} />

      {/* E */}
      <Letter x={391} y={226} t="E" />
      <Header x1={410} x2={746} y={231} title="Milk" tx={598} ty={228} />
      <Title x={485} y={248} t="IgG" />
      <Title x={590} y={248} t="IgA" />
      <Title x={700} y={248} t="SIgA" />
      <OdLabel x={416} y={325} />
      <PairPanel x0={443} x1={522} yTop={266} yBot={383} yMax={1.5} rows={milkIgG} sq={milkIgGSq} dark={PURPLE} light={PURPLE_LT} pv={milkIgGP} by={[260, 262.5, 271, 281, 283]} catY={396} />
      <PairPanel x0={555} x1={634} yTop={266} yBot={381} yMax={2.0} rows={milkIgA} sq={milkIgASq} dark={PURPLE} light={PURPLE_LT} pv={milkIgAP} by={[260, 262.5, 271, 281, 283]} catY={396} />
      <PairPanel x0={660} x1={740} yTop={266} yBot={383} yMax={2.0} rows={milkSIgA} sq={milkSIgASq} dark={PURPLE} light={PURPLE_LT} pv={milkSIgAP} by={[260, 262.5, 271, 281, 283]} catY={396} />

      {/* F */}
      <Letter x={1} y={436} t="F" />
      <Header x1={8} x2={310} y={443} title="Blood" tx={182} ty={441} />
      <Title x={78} y={456} t="IgG" />
      <Title x={180} y={456} t="IgA" />
      <Title x={275} y={456} t="IgM" />
      <OdLabel x={14} y={541} />
      <PairPanel x0={33} x1={112} yTop={483} yBot={600} yMax={1.5} rows={serumIgG} sq={serumIgGSq} dark={RUST} light={RUST_LT} pv={serumIgGP} by={[468, 470.5, 479, 490, 492.5]} catY={612} />
      <PairPanel x0={133} x1={212} yTop={483} yBot={600} yMax={1.5} rows={serumIgA} sq={serumIgASq} dark={RUST} light={RUST_LT} pv={serumIgAP} by={[468, 470.5, 479, 490, 492.5]} catY={612} />
      <PairPanel x0={233} x1={312} yTop={483} yBot={600} yMax={1.5} rows={serumIgM} sq={serumIgMSq} dark={RUST} light={RUST_LT} pv={serumIgMP} by={[468, 470.5, 479, 490, 492.5]} catY={612} />

      {/* G, H, I */}
      <Letter x={315} y={437} t="G" />
      <BloodCurves />
      <Letter x={473} y={437} t="H" />
      <Nt50Bars />
      <Letter x={586} y={437} t="I" />
      <MilkNeut />

      {/* J, K */}
      <Letter x={1} y={663} t="J" />
      <LinePanel x0={50} rows={igaPre} color="#A580C6" title="Purified IgA: Pre-vaccine" labelX={22} />
      <LinePanel x0={238} rows={igaBoost} color="#4A1877" title="Purified IgA: Boost" labelX={213} />
      <Letter x={387} y={663} t="K" />
      <LinePanel x0={427} rows={iggPre} color="#A580C6" title="Purified IgG: Pre-vaccine" labelX={398} />
      <LinePanel x0={599} rows={iggBoost} color="#4A1877" title="Purified IgG: Boost" labelX={572} />
    </svg>
  );
}
